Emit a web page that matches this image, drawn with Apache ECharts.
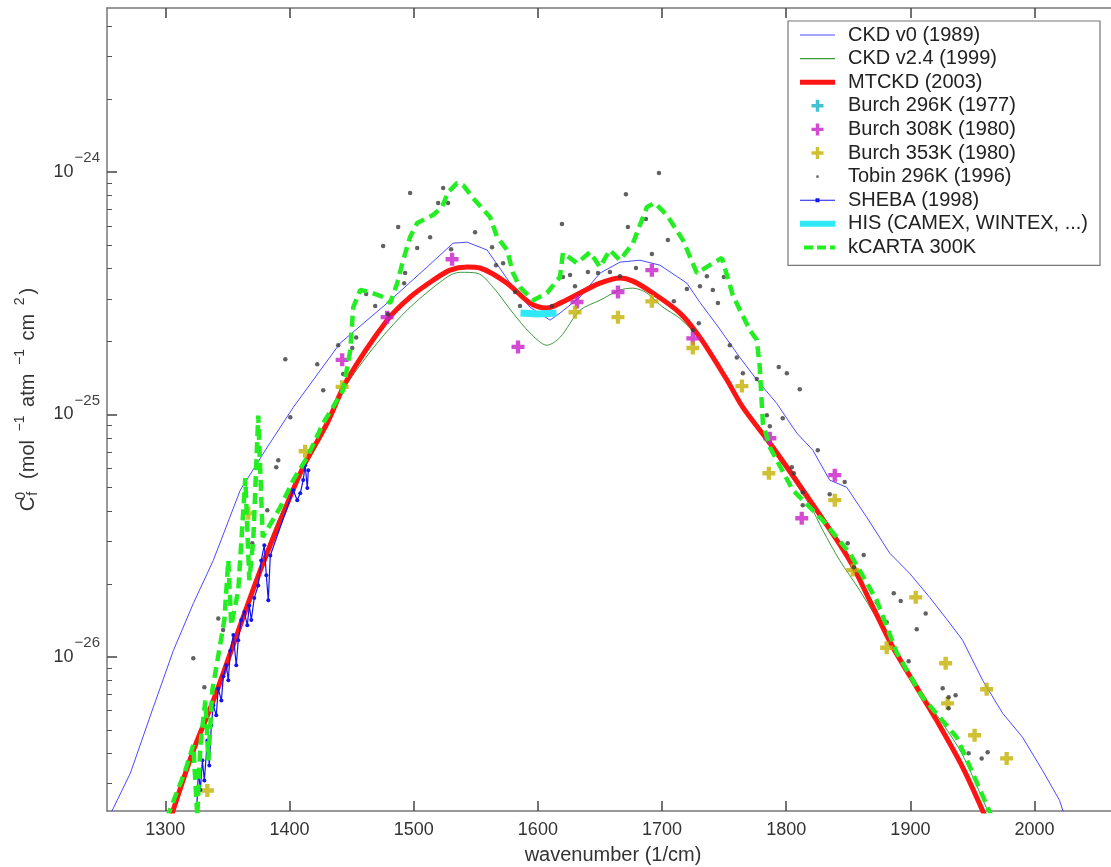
<!DOCTYPE html>
<html>
<head>
<meta charset="utf-8">
<title>Water vapour foreign continuum</title>
<script src="https://cdn.jsdelivr.net/npm/echarts@6/dist/echarts.min.js"></script>
<style>
  html, body { margin: 0; padding: 0; background: #fff; }
  #chart { width: 1111px; height: 867px; }
</style>
</head>
<body>
<div id="chart"></div>
<script>
// Axis ticks
const xTicks = [1300, 1400, 1500, 1600, 1700, 1800, 1900, 2000];
const yDecades = [-26, -25, -24];          // powers of ten labelled on the y axis

// Foreign continuum coefficient C_f^0 [wavenumber (1/cm), value]
const ckdV0 = [
  [1251, 2.0e-27], [1271.8, 3.31e-27], [1289.5, 6.03e-27], [1306.4, 1.06e-26], [1322.5, 1.66e-26],
  [1338.6, 2.5e-26], [1360.3, 4.87e-26], [1382.1, 7.33e-26], [1403, 1.07e-25], [1440.8, 1.97e-25],
  [1478.6, 2.88e-25], [1510.8, 4.06e-25], [1531.7, 5.09e-25], [1543, 5.14e-25], [1559.1, 4.77e-25],
  [1580, 3.35e-25], [1593.7, 2.77e-25], [1609.8, 2.45e-25], [1617.8, 2.62e-25], [1633.9, 3.05e-25],
  [1650, 3.83e-25], [1666.1, 4.25e-25], [1682.2, 4.33e-25], [1698.3, 4.13e-25], [1720, 3.48e-25],
  [1730.5, 2.9e-25], [1744.1, 2.34e-25], [1762.6, 1.72e-25], [1776.3, 1.39e-25], [1792.4, 1.11e-25],
  [1808.5, 8.38e-26], [1821.4, 7.13e-26], [1835, 5.36e-26], [1848.7, 5.01e-26], [1864.8, 3.77e-26],
  [1883.3, 2.68e-26], [1899.4, 2.21e-26], [1915.5, 1.76e-26], [1931.6, 1.38e-26], [1942.1, 1.17e-26],
  [1958.2, 8.0e-27], [1974.3, 5.85e-27], [1990.3, 4.66e-27], [2006.4, 3.4e-27], [2020.1, 2.56e-27],
  [2024, 2.22e-27]
];

const ckdV24 = [
  [1301, 1.96e-27], [1321.7, 4.0e-27], [1338.6, 6.6e-27], [1368.4, 1.76e-26], [1390.1, 3.6e-26],
  [1411, 5.89e-26], [1430.3, 8.87e-26], [1443.2, 1.26e-25], [1470.6, 1.97e-25], [1497.1, 2.77e-25],
  [1526.9, 3.69e-25], [1537.4, 3.86e-25], [1551, 3.83e-25], [1563.9, 3.35e-25], [1580, 2.62e-25],
  [1593.7, 2.17e-25], [1607.3, 1.93e-25], [1617.8, 2.08e-25], [1633.9, 2.69e-25], [1650, 2.96e-25],
  [1666.1, 3.26e-25], [1676.6, 3.32e-25], [1687.8, 3.17e-25], [1700.7, 2.77e-25], [1714.4, 2.49e-25],
  [1730.5, 2.03e-25], [1752.2, 1.36e-25], [1789.2, 7.12e-26], [1819, 4.23e-26], [1829.4, 3.33e-26],
  [1843.1, 2.5e-26], [1859.2, 1.88e-26], [1885.7, 1.12e-26], [1907.4, 7.28e-27], [1925.9, 5.32e-27],
  [1942.1, 3.93e-27], [1963.8, 2.22e-27]
];

const mtckd = [
  [1301, 1.92e-27], [1321.7, 4.0e-27], [1338.6, 6.6e-27], [1354.7, 1.12e-26], [1368.4, 1.76e-26],
  [1378.9, 2.45e-26], [1390.1, 3.4e-26], [1411, 6.07e-26], [1430.3, 9.2e-26], [1446.4, 1.39e-25],
  [1478.6, 2.45e-25], [1497.1, 3.05e-25], [1515.6, 3.58e-25], [1529.3, 3.94e-25], [1543, 4.06e-25],
  [1553.4, 4.02e-25], [1575.2, 3.48e-25], [1593.7, 2.88e-25], [1607.3, 2.75e-25], [1617.8, 2.88e-25],
  [1633.9, 3.17e-25], [1650, 3.48e-25], [1666.1, 3.66e-25], [1676.6, 3.55e-25], [1692.6, 3.17e-25],
  [1714.4, 2.62e-25], [1730.5, 2.08e-25], [1752.2, 1.39e-25], [1765.1, 1.07e-25], [1789.2, 7.33e-26],
  [1819, 4.43e-26], [1851.1, 2.5e-26], [1867.2, 1.71e-26], [1885.7, 1.1e-26], [1905, 7.5e-27],
  [1921.1, 5.47e-27], [1942.1, 3.5e-27], [1959.8, 2.22e-27]
];

const burch296 = [];

const burch308 = [
  [1442.4, 1.68e-25], [1478.6, 2.52e-25], [1530.9, 4.37e-25], [1584, 1.9e-25], [1631.5, 2.91e-25],
  [1664.5, 3.2e-25], [1691.8, 3.94e-25], [1724.8, 2.06e-25], [1786.8, 7.98e-26], [1812.5, 3.73e-26],
  [1839.1, 5.62e-26]
];

const burch353 = [
  [1333.8, 2.81e-27], [1366.8, 3.91e-26], [1412.6, 7.05e-26], [1442.4, 1.3e-25], [1629.9, 2.64e-25],
  [1664.5, 2.52e-25], [1691.8, 2.93e-25], [1724.8, 1.88e-25], [1764.3, 1.31e-25], [1786, 5.72e-26],
  [1839.1, 4.43e-26], [1853.6, 2.28e-26], [1880.9, 1.09e-26], [1904.3, 1.76e-26], [1928.4, 9.41e-27],
  [1930, 6.43e-27], [1951.7, 4.75e-27], [1961.4, 7.35e-27], [1977.5, 3.81e-27]
];

const tobin296 = [
  [1322.5, 9.87e-27], [1331.4, 7.49e-27], [1342.6, 1.44e-26], [1346.5, 1.29e-26], [1370, 2.94e-26],
  [1382.1, 4.03e-26], [1389.3, 6.06e-26], [1390.9, 6.48e-26], [1400.6, 9.75e-26], [1396.6, 1.69e-25],
  [1422.3, 1.61e-25], [1427.1, 1.26e-25], [1443.2, 1.47e-25], [1439.2, 1.93e-25], [1450.5, 1.88e-25],
  [1453.7, 2.08e-25], [1461.7, 3.14e-25], [1469, 2.8e-25], [1475.4, 4.95e-25], [1479.4, 2.59e-25],
  [1487.5, 5.93e-25], [1492.3, 3.48e-25], [1493.1, 3.83e-25], [1497.1, 8.19e-25], [1502.8, 4.86e-25],
  [1513.2, 5.39e-25], [1519.7, 7.45e-25], [1523.7, 8.59e-25], [1527.7, 7.45e-25], [1530.1, 4.81e-25],
  [1549.4, 5.65e-25], [1563.1, 4.9e-25], [1566.3, 4.13e-25], [1572, 4.21e-25], [1581.6, 3.2e-25],
  [1585.6, 2.8e-25], [1611.4, 2.8e-25], [1619.4, 6.1e-25], [1620.2, 3.69e-25], [1625.9, 3.76e-25],
  [1629.9, 3.38e-25], [1640.3, 3.87e-25], [1648.4, 3.83e-25], [1658, 3.87e-25], [1666.1, 3.72e-25],
  [1670.9, 8.11e-25], [1672.5, 5.93e-25], [1679, 4.02e-25], [1687, 6.4e-25], [1691.8, 4.59e-25],
  [1697.5, 9.91e-25], [1704.7, 5.24e-25], [1709.5, 2.93e-25], [1720, 3.29e-25], [1730.5, 3.38e-25],
  [1736.1, 3.72e-25], [1740.9, 3.26e-25], [1745, 2.88e-25], [1749.8, 3.69e-25], [1724.8, 2.23e-25],
  [1729.6, 2.38e-25], [1754.6, 1.93e-25], [1760.2, 1.72e-25], [1765.1, 1.48e-25], [1776.3, 1.4e-25],
  [1784.4, 9.93e-26], [1786.8, 8.95e-26], [1794, 1.57e-25], [1800.5, 1.48e-25], [1797.2, 9.65e-26],
  [1810.9, 1.27e-25], [1804.5, 6.06e-26], [1806.1, 5.72e-26], [1813.3, 4.78e-26], [1825.4, 7.12e-26],
  [1813.3, 4.22e-26], [1835, 4.69e-26], [1847.1, 5.26e-26], [1849.5, 2.94e-26], [1854.4, 2.34e-26],
  [1862.4, 2.63e-26], [1872.9, 1.68e-26], [1880.9, 1.39e-26], [1886.6, 1.83e-26], [1892.2, 1.7e-26],
  [1898.6, 9.59e-27], [1905.1, 1.3e-26], [1912.3, 1.51e-26], [1926, 7.42e-27], [1930.8, 6.81e-27],
  [1930.8, 6.14e-27], [1936.4, 6.94e-27], [1946.9, 4.0e-27], [1957.4, 3.81e-27], [1962.2, 4.04e-27]
];

const sheba = [
  [1325, 2.2e-27], [1326.6, 3.4e-27], [1328.2, 2.82e-27], [1329.8, 3.74e-27], [1331.4, 3.09e-27],
  [1333.8, 4.52e-27], [1335.4, 3.56e-27], [1337, 5.21e-27], [1338.6, 6.31e-27], [1341, 5.74e-27],
  [1342.6, 7.41e-27], [1345.1, 6.6e-27], [1346.7, 8.31e-27], [1349.1, 9.23e-27], [1350.7, 8.0e-27],
  [1352.3, 1.06e-26], [1354.7, 1.23e-26], [1357.1, 9.23e-27], [1358.7, 1.17e-26], [1361.1, 1.42e-26],
  [1363.6, 1.53e-26], [1366, 1.35e-26], [1367.6, 1.63e-26], [1369.2, 1.42e-26], [1371.6, 1.75e-26],
  [1374.8, 1.97e-26], [1377.2, 2.5e-26], [1379.7, 2.89e-26], [1381.3, 2.17e-26], [1382.9, 1.71e-26],
  [1384.5, 2.62e-26], [1403, 4.87e-26], [1406.2, 4.43e-26], [1408.6, 4.73e-26], [1411, 5.36e-26],
  [1412.6, 6.18e-26], [1414.3, 4.97e-26], [1415.1, 5.89e-26]
];

const his = [[1586, 2.62e-25], [1600, 2.6e-25], [1615, 2.62e-25]];

const kcarta300 = [
  [1301, 2.15e-27], [1316.1, 3.4e-27], [1322.5, 4.32e-27], [1325.7, 2.2e-27], [1328.2, 4.32e-27],
  [1332.2, 6.6e-27], [1334.6, 3.74e-27], [1337.8, 7.28e-27], [1342.6, 1.01e-26], [1347.5, 1.42e-26],
  [1350.7, 2.5e-26], [1353.1, 1.35e-26], [1358.7, 1.88e-26], [1364.4, 5.46e-26], [1367.6, 2.07e-26],
  [1370.8, 3.03e-26], [1374.8, 9.9e-26], [1378.4, 3.12e-26], [1392.5, 4.14e-26], [1403, 5.36e-26],
  [1414.3, 6.67e-26], [1427.1, 9.2e-26], [1443.2, 1.26e-25], [1448.9, 1.84e-25], [1451.3, 2.77e-25],
  [1456.9, 3.26e-25], [1464.9, 3.2e-25], [1475.4, 3.05e-25], [1481, 2.88e-25], [1486.7, 3.48e-25],
  [1491.5, 4.33e-25], [1497.1, 5.4e-25], [1502.8, 6.17e-25], [1515.6, 6.65e-25], [1522.9, 7.18e-25],
  [1527.7, 8.26e-25], [1534.9, 9.0e-25], [1539.8, 8.84e-25], [1547.8, 7.81e-25], [1561.5, 6.52e-25],
  [1567.1, 5.4e-25], [1575.2, 4.77e-25], [1580, 3.83e-25], [1585.6, 3.35e-25], [1596.1, 2.96e-25],
  [1607.3, 3.17e-25], [1617.8, 3.69e-25], [1620.2, 4.64e-25], [1631.5, 4.21e-25], [1642, 4.67e-25],
  [1650, 4.06e-25], [1658, 4.77e-25], [1666.1, 4.33e-25], [1676.6, 5.09e-25], [1687.8, 7.18e-25],
  [1694.2, 7.45e-25], [1703.9, 6.65e-25], [1716.8, 5.24e-25], [1728.1, 3.83e-25], [1740.9, 4.21e-25],
  [1748.2, 4.42e-25], [1757, 3.1e-25], [1770.7, 2.23e-25], [1776.3, 2.03e-25], [1778.7, 1.57e-25],
  [1781.2, 9.2e-26], [1786.8, 7.33e-26], [1805.3, 4.87e-26], [1829.4, 3.66e-26], [1851.1, 2.68e-26],
  [1872.9, 1.71e-26], [1889, 1.04e-26], [1909.9, 6.81e-27], [1937.2, 4.66e-27], [1942.1, 4.11e-27],
  [1965.4, 2.2e-27]
];

// The y axis runs in log10 space; points are converted before plotting
const toLog = arr => arr.map(([w, c]) => [w, Math.log10(c)]);

const plusSymbol = 'path://M4,0h4v4h4v4h-4v4h-4v-4h-4v-4h4z';

// Legend glyphs, each framed in a 35x14 box
const box = 'M0,0M35,14';
const icons = {
  thin:  'path://' + box + 'M0,6.4h35v1.2h-35z',
  thick: 'path://' + box + 'M0,4.5h35v5h-35z',
  plus:  'path://' + box + 'M15.8,1H19.2V5.3H23.5V8.7H19.2V13H15.8V8.7H11.5V5.3H15.8Z',
  dot:   'path://' + box + 'M16.3,5.8h2.4v2.4h-2.4z',
  sheba: 'path://' + box + 'M0,6.5h35v1h-35zM15.5,5h4v4h-4z',
  wide:  'path://' + box + 'M0,4h35v6h-35z',
  dash:  'path://' + box + 'M4,5h9v4h-9zM17,5h9v4h-9zM30,5h5v4h-5z'
};

// Minor log ticks (2..9 within each decade)
const minorTicks = [];
for (let n = -27; n <= -24; n++) {
  for (let k = 2; k <= 9; k++) {
    const v = n + Math.log10(k);
    if (v > -26.636 && v < -23.323) minorTicks.push(v);
  }
}

const FONT = '"Liberation Sans", Arial, Helvetica, sans-serif';
const axisLineStyle = { color: '#777', width: 1.5 };
const tickLineStyle = { color: '#444', width: 1.5 };

const xBase = {
  type: 'value', min: 1253, max: 2068,
  splitLine: { show: false },
  axisLine: { show: true, onZero: false, lineStyle: axisLineStyle }
};
const yBase = {
  type: 'value', min: -26.636, max: -23.323,
  splitLine: { show: false }
};

const legendEntries = [
  { name: 'CKD v0 (1989)', icon: icons.thin, color: '#4b4bff' },
  { name: 'CKD v2.4 (1999)', icon: icons.thin, color: '#3c9a3c' },
  { name: 'MTCKD (2003)', icon: icons.thick, color: '#ff1414' },
  { name: 'Burch 296K (1977)', icon: icons.plus, color: '#14b4c4' },
  { name: 'Burch 308K (1980)', icon: icons.plus, color: '#c81ec8' },
  { name: 'Burch 353K (1980)', icon: icons.plus, color: '#c4b000' },
  { name: 'Tobin 296K (1996)', icon: icons.dot, color: '#3a3a3a' },
  { name: 'SHEBA (1998)', icon: icons.sheba, color: '#1414f0' },
  { name: 'HIS (CAMEX, WINTEX, ...)', icon: icons.wide, color: '#30e8f8' },
  { name: 'kCARTA 300K', icon: icons.dash, color: '#22ee22' }
];

const chart = echarts.init(document.getElementById('chart'), null, { renderer: 'canvas' });

chart.setOption({
  animation: false,
  backgroundColor: '#fff',
  textStyle: { fontFamily: FONT },
  grid: { left: 107, top: 8, right: -8, bottom: 56, containLabel: false, outerBoundsMode: 'none' },
  legend: {
    orient: 'vertical',
    left: 788, top: 21,
    padding: [4, 12, 8, 12],
    itemWidth: 35, itemHeight: 14, itemGap: 3.6,
    selectedMode: false,
    backgroundColor: '#fff',
    borderColor: '#777', borderWidth: 1.2,
    itemStyle: { borderWidth: 0 },
    textStyle: { fontSize: 20, color: '#222', fontFamily: FONT, padding: [0, 0, 0, 8] },
    data: legendEntries.map(e => ({ name: e.name, icon: e.icon, itemStyle: { color: e.color, borderWidth: 0 } }))
  },
  xAxis: [
    Object.assign({}, xBase, {
      position: 'bottom',
      axisTick: { show: true, inside: true, length: 10, customValues: xTicks, lineStyle: tickLineStyle },
      axisLabel: {
        customValues: xTicks, margin: 10, fontSize: 18, color: '#333', fontFamily: FONT,
        formatter: v => String(Math.round(v))
      },
      name: 'wavenumber (1/cm)', nameLocation: 'middle', nameGap: 34,
      nameTextStyle: { fontSize: 20, color: '#333', fontFamily: FONT }
    }),
    Object.assign({}, xBase, {
      position: 'top',
      axisTick: { show: true, inside: true, length: 10, customValues: xTicks, lineStyle: tickLineStyle },
      axisLabel: { show: false }
    })
  ],
  yAxis: [
    Object.assign({}, yBase, {
      position: 'left',
      axisLine: { show: true, onZero: false, lineStyle: axisLineStyle },
      axisTick: { show: true, inside: true, length: 10, customValues: yDecades, lineStyle: tickLineStyle },
      axisLabel: {
        customValues: yDecades, margin: 7, color: '#333', fontFamily: FONT,
        formatter: v => '{b|10}{s|\u2212' + Math.abs(Math.round(v)) + '}',
        rich: {
          b: { fontSize: 18, color: '#333', fontFamily: FONT },
          s: { fontSize: 15, color: '#444', fontFamily: FONT, padding: [0, 0, 28, 1] }
        }
      },
      name: '{c|C}{sub|f}{sup0|0}{t|  (mol }{sup|\u22121}{t| atm }{sup|\u22121}{t| cm }{sup|2}{t|)}',
      nameLocation: 'middle', nameRotate: 90, nameGap: 64,
      nameTextStyle: {
        color: '#333', fontFamily: FONT, padding: [0, 0, 0, 20],
        rich: {
          c: { fontSize: 20, color: '#333', fontFamily: FONT },
          t: { fontSize: 20, color: '#333', fontFamily: FONT },
          sub: { fontSize: 14, color: '#333', fontFamily: FONT, padding: [10, 0, 0, 1] },
          sup0: { fontSize: 14, color: '#333', fontFamily: FONT, padding: [0, 2, 14, -8] },
          sup: { fontSize: 14, color: '#333', fontFamily: FONT, padding: [0, 3, 16, 3] }
        }
      }
    }),
    Object.assign({}, yBase, {
      position: 'left',
      axisLine: { show: false },
      axisTick: { show: true, inside: true, length: 5, customValues: minorTicks, lineStyle: { color: '#555', width: 1 } },
      axisLabel: { show: false }
    })
  ],
  series: [
    {
      name: 'CKD v0 (1989)', type: 'line', data: toLog(ckdV0), symbol: 'none',
      lineStyle: { color: '#4b4bff', width: 1 }, itemStyle: { color: '#4b4bff' }, z: 2
    },
    {
      name: 'CKD v2.4 (1999)', type: 'line', data: toLog(ckdV24), symbol: 'none', smooth: 0.3,
      lineStyle: { color: '#3c9a3c', width: 1 }, itemStyle: { color: '#3c9a3c' }, z: 2
    },
    {
      name: 'MTCKD (2003)', type: 'line', data: toLog(mtckd), symbol: 'none', smooth: 0.3,
      lineStyle: { color: '#ff1414', width: 5 }, itemStyle: { color: '#ff1414' }, z: 3
    },
    {
      name: 'Burch 296K (1977)', type: 'scatter', data: toLog(burch296), symbol: plusSymbol, symbolSize: 13,
      itemStyle: { color: '#14b4c4' }, z: 4
    },
    {
      name: 'Burch 308K (1980)', type: 'scatter', data: toLog(burch308), symbol: plusSymbol, symbolSize: 13,
      itemStyle: { color: '#c81ec8' }, z: 4
    },
    {
      name: 'Burch 353K (1980)', type: 'scatter', data: toLog(burch353), symbol: plusSymbol, symbolSize: 13,
      itemStyle: { color: '#c4b000' }, z: 4
    },
    {
      name: 'Tobin 296K (1996)', type: 'scatter', data: toLog(tobin296), symbol: 'circle', symbolSize: 4.5,
      itemStyle: { color: '#3a3a3a' }, z: 5
    },
    {
      name: 'SHEBA (1998)', type: 'line', data: toLog(sheba), symbol: 'circle', symbolSize: 4, showSymbol: true,
      lineStyle: { color: '#1414f0', width: 1.2 }, itemStyle: { color: '#1414f0' }, z: 5
    },
    {
      name: 'HIS (CAMEX, WINTEX, ...)', type: 'line', data: toLog(his), symbol: 'none',
      lineStyle: { color: '#30e8f8', width: 7 }, itemStyle: { color: '#30e8f8' }, z: 6
    },
    {
      name: 'kCARTA 300K', type: 'line', data: toLog(kcarta300), symbol: 'none',
      lineStyle: { color: '#22ee22', width: 4.5, type: [11, 6] }, itemStyle: { color: '#22ee22' }, z: 6
    }
  ]
});
</script>
</body>
</html>
